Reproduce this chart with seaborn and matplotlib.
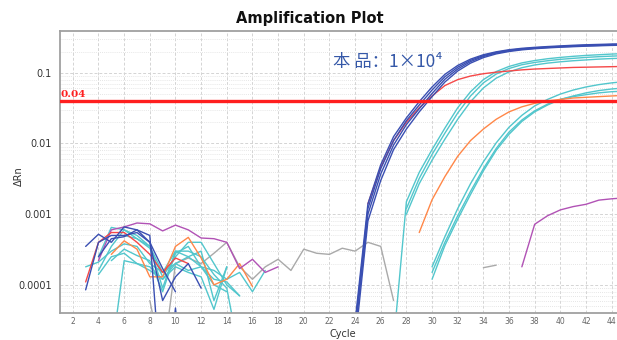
import matplotlib
matplotlib.use("Agg")
import matplotlib.pyplot as plt
import numpy as np
import pandas as pd
import seaborn as sns
from matplotlib.ticker import FixedLocator, LogLocator, NullFormatter

# colours of the wells
BLUE = "#3a4fb2"
RED = "#f54848"
CYAN = "#52c6cc"
ORANGE = "#ff8748"
PURPLE = "#b152b5"
GRAY = "#a9a9a9"

THRESHOLD = 0.04
x_ticks = list(range(2, 46, 2))
y_ticks = [0.0001, 0.001, 0.01, 0.1]
y_tick_labels = ["0.0001", "0.001", "0.01", "0.1"]

# amplified wells: values per cycle, from the first cycle given in the table below
blue_a = [3e-5, 0.0014, 0.005, 0.0125, 0.023, 0.039, 0.063, 0.095, 0.127, 0.156, 0.18,
          0.198, 0.212, 0.222, 0.229, 0.235, 0.24, 0.245, 0.249, 0.252, 0.255, 0.257]
blue_b = [2.5e-5, 0.0012, 0.0044, 0.011, 0.021, 0.035, 0.057, 0.088, 0.12, 0.15, 0.175,
          0.194, 0.208, 0.218, 0.225, 0.231, 0.236, 0.241, 0.245, 0.248, 0.251, 0.253]
blue_c = [2e-5, 0.001, 0.0037, 0.0095, 0.0185, 0.031, 0.051, 0.081, 0.113, 0.144, 0.17,
          0.19, 0.205, 0.215, 0.222, 0.228, 0.233, 0.237, 0.241, 0.244, 0.247, 0.249]
blue_d = [1.5e-5, 0.0008, 0.003, 0.0082, 0.016, 0.028, 0.046, 0.074, 0.106, 0.137, 0.164,
          0.185, 0.2, 0.211, 0.219, 0.225, 0.23, 0.234, 0.238, 0.241, 0.244, 0.246]
red_amp = [0.0014, 0.0046, 0.011, 0.02, 0.032, 0.047, 0.066, 0.08, 0.09, 0.097, 0.102,
           0.106, 0.11, 0.113, 0.115, 0.117, 0.119, 0.12, 0.121, 0.122, 0.123]
cyan1_a = [1.5e-5, 0.0015, 0.0039, 0.0082, 0.0165, 0.032, 0.054, 0.08, 0.104, 0.123, 0.138,
           0.149, 0.158, 0.165, 0.171, 0.176, 0.18, 0.184, 0.187]
cyan1_b = [0.0012, 0.0032, 0.007, 0.014, 0.027, 0.047, 0.072, 0.096, 0.115, 0.13, 0.14,
           0.148, 0.155, 0.16, 0.165, 0.169, 0.172, 0.175]
cyan1_c = [0.001, 0.0027, 0.0058, 0.0115, 0.022, 0.039, 0.061, 0.084, 0.103, 0.118, 0.129,
           0.137, 0.143, 0.148, 0.152, 0.156, 0.159, 0.161]
orange_amp = [0.00055, 0.0016, 0.0034, 0.0066, 0.011, 0.016, 0.022, 0.028, 0.033, 0.037,
              0.04, 0.042, 0.044, 0.045, 0.046, 0.047, 0.048]
cyan2_a = [0.00018, 0.00048, 0.0012, 0.0027, 0.0055, 0.0102, 0.017, 0.025, 0.034, 0.042,
           0.05, 0.057, 0.063, 0.068, 0.072, 0.075]
cyan2_b = [0.00012, 0.00036, 0.00085, 0.0019, 0.0041, 0.008, 0.0135, 0.0205, 0.028, 0.035,
           0.042, 0.047, 0.052, 0.056, 0.059, 0.061]
cyan2_c = [0.00015, 0.0004, 0.00095, 0.0021, 0.0044, 0.0085, 0.0145, 0.0215, 0.029, 0.036,
           0.042, 0.046, 0.049, 0.052, 0.054, 0.055]
purple_amp = [0.00018, 0.00072, 0.00095, 0.00115, 0.00128, 0.00138, 0.00158, 0.00165, 0.0017]
gray_late = [0.000175, 0.00019]

# baseline noise
gray_noise = [6e-5, 8e-6, 0.0002, 0.00024, 0.0002, 0.00028, 0.0004, 0.00018, 0.00012, 0.00018,
              0.00023, 0.00016, 0.00032, 0.00028, 0.00027, 0.00033, 0.0003, 0.0004, 0.00035, 6e-5]
purple_noise = [0.00022, 0.0006, 0.00066, 0.00075, 0.00073, 0.00058, 0.0007, 0.0006, 0.00046,
                0.00045, 0.0004, 0.00017, 0.00023, 0.00015, 0.00018]
blue_noise_a = [0.00035, 0.00052, 0.0004, 0.00066, 0.0006, 0.0005, 2e-6]
blue_noise_b = [8.5e-5, 0.0004, 0.0005, 0.0005, 0.00055, 0.0004, 6e-5, 0.00013, 0.0002, 9e-5]
blue_noise_c = [0.00025, 0.00045, 0.00048, 0.0006, 0.0004, 0.00017, 8e-5]
blue_noise_d = [1e-6, 4.7e-5, 1e-6]
red_noise = [0.00011, 0.0004, 0.00055, 0.00055, 0.0004, 0.00027, 0.00015, 0.00024, 0.0002]
orange_noise = [0.00027, 0.00042, 0.00032, 0.00013, 0.00013, 0.00035, 0.00047, 0.00024,
                0.0001, 0.00012, 0.0002, 9.5e-5]
cyan_noise_a = [0.00016, 0.00035, 0.0006, 0.00045, 0.00033, 0.00013, 0.00025, 0.0004, 0.0004,
                0.0002, 0.0001, 7e-5]
cyan_noise_b = [0.00025, 0.00065, 0.0006, 0.0005, 0.00035, 9e-5, 0.0003, 0.00025, 0.0003,
                6e-5, 0.00018]
cyan_noise_c = [0.00022, 0.00032, 0.00026, 0.00022, 8e-5, 0.00028, 0.00035, 0.00018, 0.00012,
                0.00011, 7e-5]
cyan_noise_d = [0.00014, 0.00025, 0.00028, 0.0002, 0.00016, 0.00012, 0.0002, 0.00016, 0.00018,
                0.00016, 0.00012, 0.00015, 8e-5, 0.00016]
cyan_noise_e = [1e-5, 0.00022, 0.0002, 0.00018, 0.00012, 0.00018, 0.00015, 0.00013, 4.5e-5,
                0.00018]
cyan_noise_f = [0.00018, 0.00021, 0.0003, 0.00038, 0.00035, 0.0002, 0.00015, 0.0003, 0.0003,
                0.00025, 0.00014, 9e-5, 1e-5]
cyan_noise_g = [0.0005, 0.00045, 0.00035, 0.00015, 0.0002, 0.00025, 0.00018, 0.0001, 8e-5]

wells = [
    ("gray_noise", 8, gray_noise, GRAY), ("gray_late", 34, gray_late, GRAY),
    ("cyan_noise_a", 4, cyan_noise_a, CYAN), ("cyan_noise_b", 4, cyan_noise_b, CYAN),
    ("cyan_noise_c", 5, cyan_noise_c, CYAN), ("cyan_noise_d", 4, cyan_noise_d, CYAN),
    ("cyan_noise_e", 5, cyan_noise_e, CYAN), ("cyan_noise_f", 3, cyan_noise_f, CYAN),
    ("cyan_noise_g", 6, cyan_noise_g, CYAN),
    ("orange_noise", 5, orange_noise, ORANGE), ("purple_noise", 4, purple_noise, PURPLE),
    ("red_noise", 3, red_noise, RED),
    ("blue_noise_a", 3, blue_noise_a, BLUE), ("blue_noise_b", 3, blue_noise_b, BLUE),
    ("blue_noise_c", 4, blue_noise_c, BLUE), ("blue_noise_d", 9, blue_noise_d, BLUE),
    ("cyan1_a", 27, cyan1_a, CYAN), ("cyan1_b", 28, cyan1_b, CYAN), ("cyan1_c", 28, cyan1_c, CYAN),
    ("cyan2_a", 30, cyan2_a, CYAN), ("cyan2_b", 30, cyan2_b, CYAN), ("cyan2_c", 30, cyan2_c, CYAN),
    ("orange_amp", 29, orange_amp, ORANGE), ("purple_amp", 37, purple_amp, PURPLE),
    ("red_amp", 25, red_amp, RED),
    ("blue_a", 24, blue_a, BLUE), ("blue_b", 24, blue_b, BLUE),
    ("blue_c", 24, blue_c, BLUE), ("blue_d", 24, blue_d, BLUE),
]

rows = []
for name, start, vals, _ in wells:
    for i, v in enumerate(vals):
        rows.append({"well": name, "cycle": start + i, "drn": v})
df = pd.DataFrame(rows)
palette = {name: color for name, _, _, color in wells}

sns.set_style("white")
plt.rcParams["font.family"] = ["DejaVu Sans"]

fig = plt.figure(figsize=(6.17, 3.40), dpi=100)
ax = fig.add_axes([60 / 617, 27 / 340, 564.5 / 617, 282 / 340])

sns.lineplot(data=df, x="cycle", y="drn", hue="well", units="well", estimator=None,
             palette=palette, hue_order=[w[0] for w in wells], legend=False,
             linewidth=1.0, ax=ax)

ax.set_yscale("log")
ax.set_xlim(1, 45)
ax.set_ylim(4.0e-5, 0.39)

ax.axhline(THRESHOLD, color="#ff1f1f", linewidth=2.4, zorder=5)
ax.text(1.05, THRESHOLD * 1.07, "0.04", color="#ff1f1f", fontsize=7.5, fontweight="bold",
        family="DejaVu Serif", va="bottom", ha="left", zorder=6)

ax.set_xticks(x_ticks)
ax.set_xticklabels([str(t) for t in x_ticks], fontsize=5.5, color="#666666")
ax.yaxis.set_major_locator(FixedLocator(y_ticks))
ax.set_yticklabels(y_tick_labels, fontsize=7, color="#333333")
ax.yaxis.set_minor_locator(LogLocator(base=10, subs=np.arange(2, 10)))
ax.yaxis.set_minor_formatter(NullFormatter())
ax.tick_params(axis="both", which="both", length=0)
ax.tick_params(axis="x", pad=3)
ax.tick_params(axis="y", pad=6)
ax.set_xlabel("")
ax.set_ylabel("")

ax.grid(True, which="major", axis="both", color="#d4d4d4", linestyle=(0, (3, 2)), linewidth=0.7)
ax.grid(True, which="minor", axis="y", color="#dedede", linestyle=(0, (1, 1.5)), linewidth=0.6)
ax.set_axisbelow(True)

for side in ["left", "bottom", "top", "right"]:
    ax.spines[side].set_color("#a0a0a0")
    ax.spines[side].set_linewidth(1.3)

fig.text(343 / 617, 1 - 334 / 340, "Cycle", fontsize=7, color="#333333",
         ha="center", va="center")
fig.text(19 / 617, 1 - 176 / 340, "ΔRn", fontsize=7, color="#333333",
         ha="center", va="center", rotation=90)

ax.text(22.3, 0.141, "本 品：1×10⁴", color="#3558a8", fontsize=12.5,
        family=["Noto Sans CJK SC", "DejaVu Sans"], va="center", ha="left", zorder=7)

fig.text(310 / 617, 1 - 18 / 340, "Amplification Plot", ha="center", va="center",
         fontsize=10.5, fontweight="bold", color="#111111")

fig.savefig("out.png", dpi=100)
